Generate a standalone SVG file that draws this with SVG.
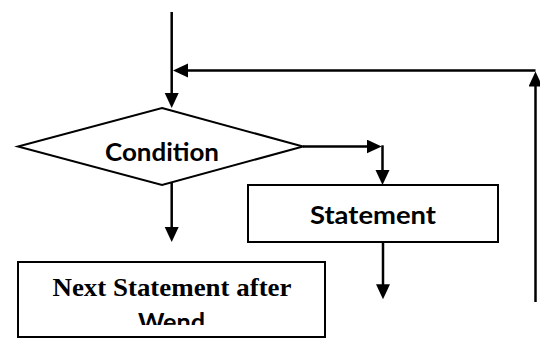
<svg xmlns="http://www.w3.org/2000/svg" width="540" height="342" viewBox="0 0 540 342">
  <style>
    .shape { fill: #ffffff; stroke: #000000; stroke-width: 2; }
    .wire { fill: none; stroke: #000000; stroke-width: 2.5; }
    .sans { font-family: Lato, "Open Sans", "Liberation Sans", sans-serif; font-weight: bold; font-size: 25px; fill: #000000; }
    .serif { font-family: "Liberation Serif", "DejaVu Serif", serif; font-weight: bold; font-size: 25px; fill: #000000; }
  </style>
  <defs>
    <marker id="arrow" markerUnits="userSpaceOnUse" markerWidth="16" markerHeight="15" refX="5" refY="7" orient="auto">
      <path d="M0,0 L15,7 L0,14 z" fill="#000000"/>
    </marker>
    <clipPath id="nextClip">
      <rect x="18" y="262" width="307" height="63"/>
    </clipPath>
  </defs>

  <!-- Decision node -->
  <g id="condition">
    <polygon class="shape" points="162,108 303,146.5 162,185 18,146.5"/>
    <text class="sans" x="162" y="161" text-anchor="middle" textLength="114" lengthAdjust="spacingAndGlyphs">Condition</text>
  </g>

  <!-- Loop body -->
  <g id="statement">
    <rect class="shape" x="248" y="185" width="250" height="57"/>
    <text class="sans" x="373" y="224" text-anchor="middle" textLength="126" lengthAdjust="spacingAndGlyphs">Statement</text>
  </g>

  <!-- Exit node -->
  <g id="next-statement">
    <rect class="shape" x="18" y="262" width="307" height="75"/>
    <g clip-path="url(#nextClip)">
      <text class="serif" x="172" y="296" text-anchor="middle" textLength="239" lengthAdjust="spacingAndGlyphs">Next Statement after</text>
      <text class="sans" x="171.5" y="331" text-anchor="middle" textLength="67" lengthAdjust="spacingAndGlyphs">Wend</text>
    </g>
  </g>

  <!-- Connectors -->
  <g id="connectors">
    <!-- entry into the condition -->
    <line class="wire" x1="171.7" y1="12" x2="171.7" y2="98" marker-end="url(#arrow)"/>
    <!-- loop back from the body -->
    <line class="wire" x1="535.5" y1="302" x2="535.5" y2="81.5" marker-end="url(#arrow)"/>
    <line class="wire" x1="535.5" y1="70.5" x2="183" y2="70.5" marker-end="url(#arrow)"/>
    <!-- true branch into the body -->
    <line class="wire" x1="303" y1="146.5" x2="371.7" y2="146.5" marker-end="url(#arrow)"/>
    <line class="wire" x1="382.5" y1="145.3" x2="382.5" y2="175" marker-end="url(#arrow)"/>
    <!-- false branch -->
    <line class="wire" x1="171.7" y1="182" x2="171.7" y2="232" marker-end="url(#arrow)"/>
    <!-- out of the body -->
    <line class="wire" x1="383" y1="242" x2="383" y2="289.3" marker-end="url(#arrow)"/>
  </g>
</svg>
